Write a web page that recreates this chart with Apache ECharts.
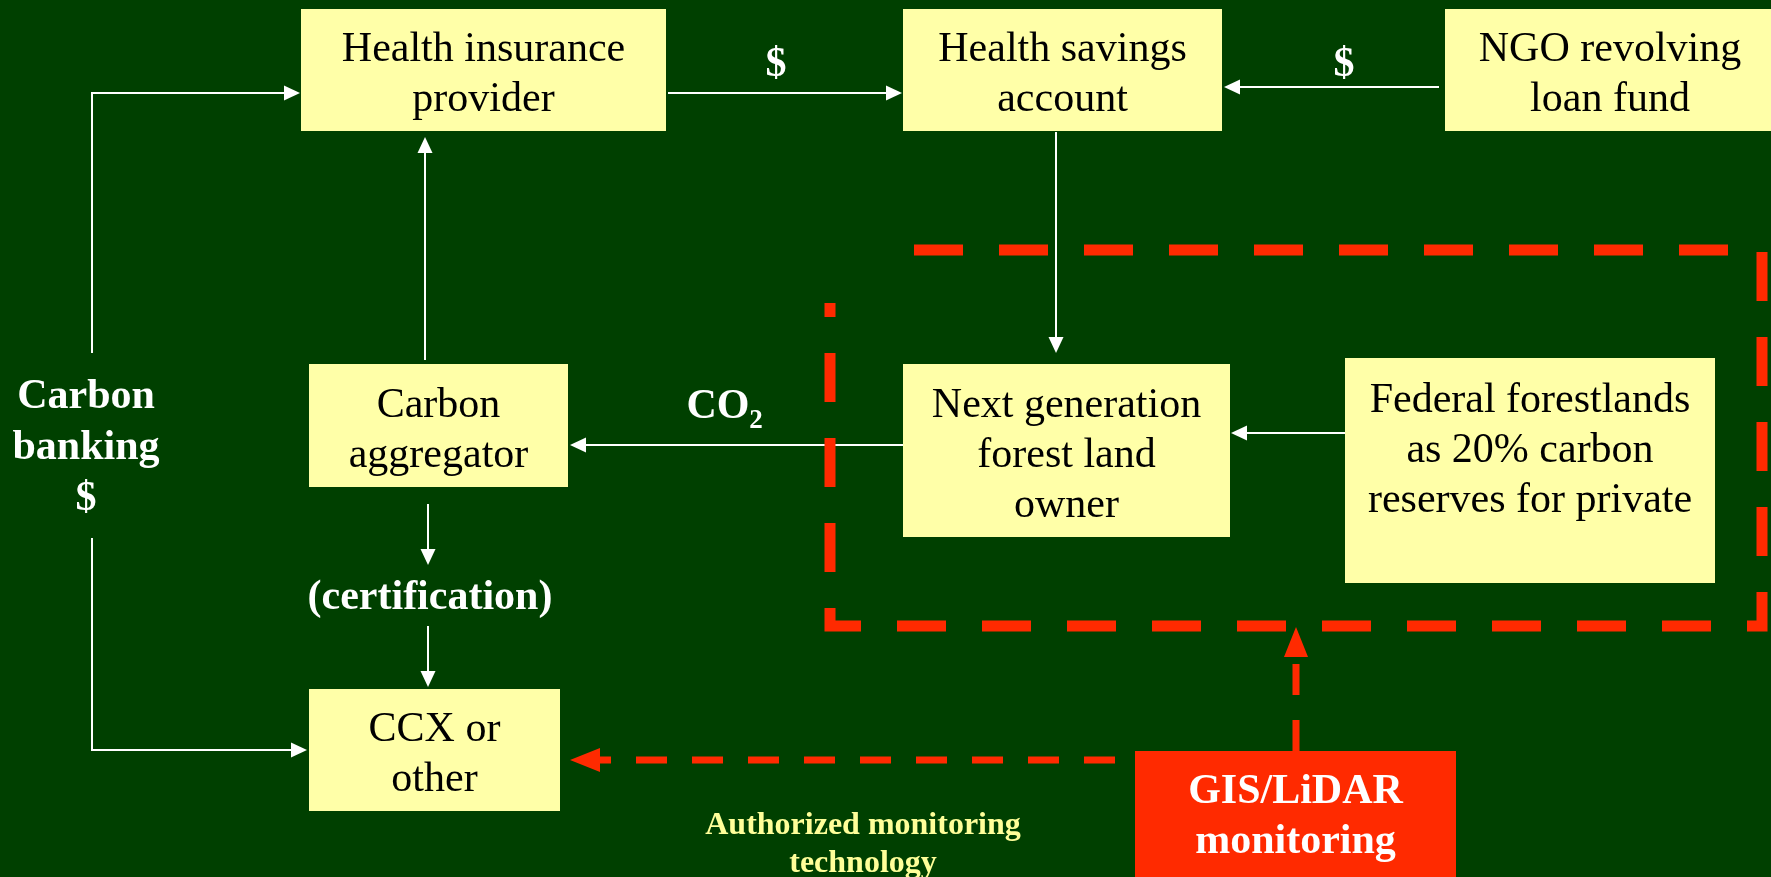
<!DOCTYPE html>
<html>
<head>
<meta charset="utf-8">
<script src="https://cdn.jsdelivr.net/npm/echarts@6/dist/echarts.min.js"></script>
<style>
html, body { margin: 0; padding: 0; background: #004000; }
#main { width: 1771px; height: 877px; }
</style>
</head>
<body>
<div id="main"></div>
<script>
// yellow boxes (diagram units = pixels of the slide)
const boxNames = ['Health insurance\nprovider', 'Health savings\naccount', 'NGO revolving\nloan fund',
    'Carbon\naggregator', 'Next generation\nforest land\nowner', 'Federal forestlands\nas 20% carbon\nreserves for private',
    'CCX or\nother']
const boxLeft = [301, 903, 1445, 309, 903, 1345, 309]
const boxTop = [9, 9, 9, 364, 364, 358, 689]
const boxRight = [666, 1222, 1775, 568, 1230, 1715, 560]
const boxBottom = [131, 131, 131, 487, 537, 583, 811]
const boxTextY = [75, 75, 75, 431, 456, 451, 755]

// red monitoring box
const monitorName = ['GIS/LiDAR\nmonitoring']
const monitorLeft = [1135]
const monitorTop = [751]
const monitorRight = [1456]
const monitorBottom = [880]
const monitorTextY = [817]

// free labels
const labelTexts = ['$', '$', 'Carbon\nbanking\n$', '(certification)', 'CO', '2']
const labelX = [776, 1344, 86, 430, 718, 756]
const labelY = [65, 65, 448, 598, 407, 421]
const labelSize = [42, 42, 42, 42, 42, 27]

const noteText = ['Authorized monitoring\ntechnology']
const noteX = [863]
const noteY = [845]

// white flow arrows (polyline points, last point = tip)
const flowPaths = [
    [[92, 353], [92, 93], [300, 93]],
    [[92, 538], [92, 750], [307, 750]],
    [[668, 93], [902, 93]],
    [[1439, 87], [1224, 87]],
    [[1056, 132], [1056, 353]],
    [[425, 360], [425, 137]],
    [[903, 445], [570, 445]],
    [[1345, 433], [1231, 433]],
    [[428, 504], [428, 565]],
    [[428, 626], [428, 687]]
]

// red dashed frame and monitoring arrows
const frameX = [914, 1762, 1762, 830, 830]
const frameY = [250, 250, 626, 626, 303]
const monitorPaths = [
    [[1296, 751], [1296, 627]],
    [[1135, 760], [570, 760]]
]
const monitorDashOffset = [0, 36]

const RED = '#ff2a00'
const FONT = '"Liberation Serif", "Times New Roman", serif'

function boxItem(names, left, top, right, bottom, textY, fill, color, weight) {
    return function (params, api) {
        const i = params.dataIndex
        const p0 = api.coord([left[i], top[i]])
        const p1 = api.coord([right[i], bottom[i]])
        const tc = api.coord([(left[i] + right[i]) / 2, textY[i]])
        return {
            type: 'group',
            children: [
                {
                    type: 'rect',
                    shape: { x: p0[0], y: p0[1], width: p1[0] - p0[0], height: p1[1] - p0[1] },
                    style: { fill: fill }
                },
                {
                    type: 'text',
                    style: {
                        x: tc[0], y: tc[1], text: names[i],
                        align: 'center', verticalAlign: 'middle',
                        font: weight + ' 42px ' + FONT, lineHeight: 50, fill: color
                    }
                }
            ]
        }
    }
}

function arrowItem(paths, color, width, headLen, headHalf, dash, offsets) {
    return function (params, api) {
        const i = params.dataIndex
        const pts = paths[i].map(p => api.coord(p))
        const n = pts.length
        const tip = pts[n - 1], prev = pts[n - 2]
        const dx = tip[0] - prev[0], dy = tip[1] - prev[1]
        const len = Math.hypot(dx, dy)
        const ux = dx / len, uy = dy / len
        const base = [tip[0] - ux * headLen, tip[1] - uy * headLen]
        const line = pts.slice(0, n - 1).concat([base])
        return {
            type: 'group',
            children: [
                {
                    type: 'polyline',
                    shape: { points: line },
                    style: {
                        stroke: color, lineWidth: width, fill: null,
                        lineDash: dash, lineDashOffset: offsets ? offsets[i] : 0
                    }
                },
                {
                    type: 'polygon',
                    shape: {
                        points: [tip,
                            [base[0] - uy * headHalf, base[1] + ux * headHalf],
                            [base[0] + uy * headHalf, base[1] - ux * headHalf]]
                    },
                    style: { fill: color }
                }
            ]
        }
    }
}

function textItem(texts, xs, ys, sizes, color, lineHeight) {
    return function (params, api) {
        const i = params.dataIndex
        const c = api.coord([xs[i], ys[i]])
        const size = Array.isArray(sizes) ? sizes[i] : sizes
        return {
            type: 'text',
            style: {
                x: c[0], y: c[1], text: texts[i],
                align: 'center', verticalAlign: 'middle',
                font: 'bold ' + size + 'px ' + FONT, lineHeight: lineHeight, fill: color
            }
        }
    }
}

var myChart = echarts.init(document.getElementById('main'))

var option = {
    backgroundColor: '#004000',
    animation: false,
    grid: { left: 0, right: 0, top: 0, bottom: 0 },
    xAxis: { type: 'value', min: 0, max: 1771, show: false },
    yAxis: { type: 'value', min: 0, max: 877, inverse: true, show: false },
    series: [
        {
            type: 'custom',
            silent: true,
            clip: false,
            renderItem: boxItem(boxNames, boxLeft, boxTop, boxRight, boxBottom, boxTextY, '#ffffa8', '#000', 'normal'),
            data: boxNames.map((n, i) => [boxLeft[i], boxTop[i]])
        },
        {
            type: 'custom',
            silent: true,
            clip: false,
            renderItem: arrowItem(flowPaths, '#ffffff', 2, 16, 7.5),
            data: flowPaths.map(p => p[0])
        },
        {
            // dashed red frame round the forest land owners
            type: 'custom',
            silent: true,
            clip: false,
            renderItem: function (params, api) {
                const pts = frameX.map((x, i) => api.coord([x, frameY[i]]))
                return {
                    type: 'polyline',
                    shape: { points: pts },
                    style: { stroke: RED, lineWidth: 11, fill: null, lineDash: [49, 36] }
                }
            },
            data: [[frameX[0], frameY[0]]]
        },
        {
            type: 'custom',
            silent: true,
            clip: false,
            renderItem: boxItem(monitorName, monitorLeft, monitorTop, monitorRight, monitorBottom, monitorTextY, RED, '#ffffff', 'bold'),
            data: [[monitorLeft[0], monitorTop[0]]]
        },
        {
            type: 'custom',
            silent: true,
            clip: false,
            renderItem: arrowItem(monitorPaths, RED, 7, 30, 12, [31, 25], monitorDashOffset),
            data: monitorPaths.map(p => p[0])
        },
        {
            type: 'custom',
            silent: true,
            clip: false,
            renderItem: textItem(labelTexts, labelX, labelY, labelSize, '#ffffff', 51),
            data: labelTexts.map((t, i) => [labelX[i], labelY[i]])
        },
        {
            type: 'custom',
            silent: true,
            clip: false,
            renderItem: textItem(noteText, noteX, noteY, 32, '#ffff99', 38),
            data: [[noteX[0], noteY[0]]]
        }
    ]
}

myChart.setOption(option)
</script>
</body>
</html>
